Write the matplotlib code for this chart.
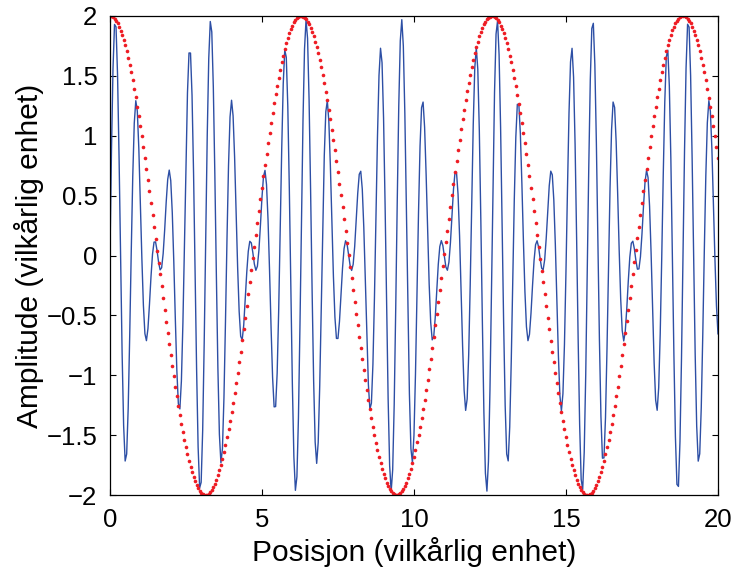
import numpy as np
import matplotlib.pyplot as plt

# wave parameters: blue = sin(10x) + sin(8x), red = 2cos(x)
wave_numbers = [10, 8]
envelope_amp = 2.0
envelope_k = 1.0
x_range = [0, 20]
step = 0.05

x_ticks = [0, 5, 10, 15, 20]
y_ticks = [-2, -1.5, -1, -0.5, 0, 0.5, 1, 1.5, 2]
y_labels = ['\u22122', '\u22121.5', '\u22121', '\u22120.5', '0', '0.5', '1', '1.5', '2']

x = np.arange(x_range[0], x_range[1] + step / 2, step)
blue = sum(np.sin(k * x) for k in wave_numbers)
red = envelope_amp * np.cos(envelope_k * x)

plt.rcParams['font.family'] = ['Liberation Sans', 'DejaVu Sans']

fig = plt.figure(figsize=(7.33, 5.71), dpi=100)
ax = fig.add_axes([0.150, 0.133, 0.8295, 0.839])

ax.plot(x, blue, color='#2d4fa5', lw=1.0)
ax.plot(x, red, 'o', color='#ee1c24', ms=2.6, mec='none')

ax.set_xlim(0, 20)
ax.set_ylim(-2, 2)
ax.set_xticks(x_ticks)
ax.set_yticks(y_ticks)
ax.set_yticklabels(y_labels)
ax.tick_params(direction='in', top=True, right=True, length=4.5, width=0.8,
               labelsize=18.5, pad=9)
for s in ax.spines.values():
    s.set_linewidth(0.9)

ax.set_xlabel('Posisjon (vilkårlig enhet)', fontsize=21.5, labelpad=4)
ax.set_ylabel('Amplitude (vilkårlig enhet)', fontsize=21.5, labelpad=2)

fig.savefig('out.png', dpi=100)
